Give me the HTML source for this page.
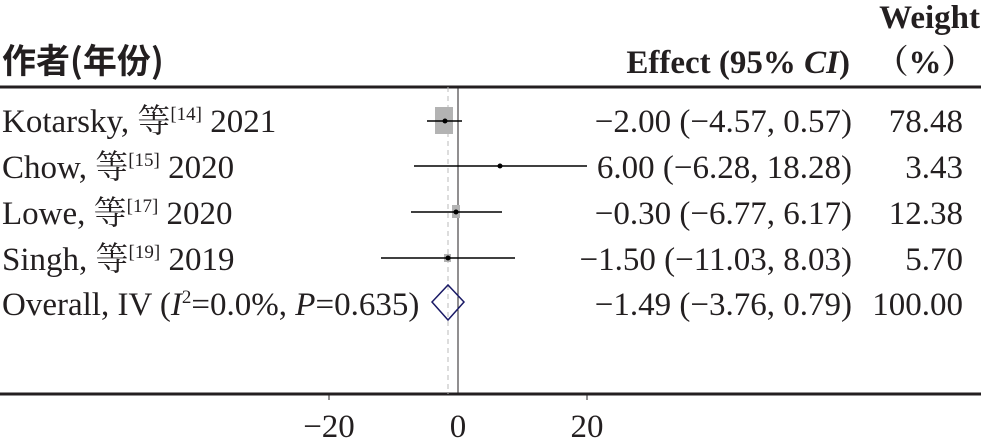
<!DOCTYPE html><html><head><style>
body{margin:0;width:981px;height:440px;background:#fff;overflow:hidden}
svg text{font-family:"Liberation Serif","Noto Serif CJK SC",serif;font-size:33px;fill:#231f20}
</style></head><body>
<svg width="981" height="440">
<text x="2" y="73" style="font-family:'Noto Sans CJK SC',sans-serif;font-weight:bold;font-size:34px">作者(年份)</text>
<text x="850" y="73" text-anchor="end" font-weight="bold">Effect (95% <tspan font-style="italic">CI</tspan>)</text>
<text x="980" y="28" text-anchor="end" font-weight="bold">Weight</text>
<text x="925" y="73" text-anchor="middle" font-weight="bold">（%）</text>
<line x1="0" y1="87" x2="981" y2="87" stroke="#231f20" stroke-width="3"/>
<line x1="0" y1="394" x2="981" y2="394" stroke="#231f20" stroke-width="3"/>
<line x1="458" y1="87" x2="458" y2="394" stroke="#231f20" stroke-width="1"/>
<line x1="448" y1="87" x2="448" y2="394" stroke="#bbb" stroke-width="1" stroke-dasharray="5,4"/>
<line x1="329" y1="394" x2="329" y2="400" stroke="#231f20"/><line x1="587" y1="394" x2="587" y2="400" stroke="#231f20"/>
<text x="329" y="437" text-anchor="middle">−20</text><text x="458" y="437" text-anchor="middle">0</text><text x="587" y="437" text-anchor="middle">20</text>
<text x="2" y="132">Kotarsky, 等<tspan font-size="19" dy="-12">[14]</tspan><tspan dy="12"> 2021</tspan></text>
<text x="2" y="178">Chow, 等<tspan font-size="19" dy="-12">[15]</tspan><tspan dy="12"> 2020</tspan></text>
<text x="2" y="224">Lowe, 等<tspan font-size="19" dy="-12">[17]</tspan><tspan dy="12"> 2020</tspan></text>
<text x="2" y="270">Singh, 等<tspan font-size="19" dy="-12">[19]</tspan><tspan dy="12"> 2019</tspan></text>
<text x="2" y="315">Overall, IV (<tspan font-style="italic">I</tspan><tspan font-size="19" dy="-12">2</tspan><tspan dy="12">=0.0%, </tspan><tspan font-style="italic">P</tspan>=0.635)</text>
<rect x="435" y="107" width="18" height="27" fill="#b3b3b3"/>
<line x1="427" y1="121" x2="462" y2="121" stroke="#000" stroke-width="1.5"/><circle cx="445" cy="121" r="2.5"/>
<line x1="414" y1="166" x2="587" y2="166" stroke="#000" stroke-width="1.5"/><circle cx="500" cy="166" r="2.5"/>
<rect x="452" y="205" width="8" height="13" fill="#b3b3b3"/>
<line x1="411" y1="212" x2="502" y2="212" stroke="#000" stroke-width="1.5"/><circle cx="456" cy="212" r="2.5"/>
<rect x="444" y="254" width="7" height="8" fill="#b3b3b3"/>
<line x1="381" y1="258" x2="515" y2="258" stroke="#000" stroke-width="1.5"/><circle cx="448" cy="258" r="2.5"/>
<polygon points="432,302 448,285 464,302 448,320" fill="none" stroke="#1a1a66" stroke-width="1.5"/>
<g text-anchor="end">
<text x="852" y="132">−2.00 (−4.57, 0.57)</text><text x="963" y="132">78.48</text>
<text x="852" y="178">6.00 (−6.28, 18.28)</text><text x="963" y="178">3.43</text>
<text x="852" y="224">−0.30 (−6.77, 6.17)</text><text x="963" y="224">12.38</text>
<text x="852" y="270">−1.50 (−11.03, 8.03)</text><text x="963" y="270">5.70</text>
<text x="852" y="315">−1.49 (−3.76, 0.79)</text><text x="963" y="315">100.00</text>
</g>
</svg></body></html>
